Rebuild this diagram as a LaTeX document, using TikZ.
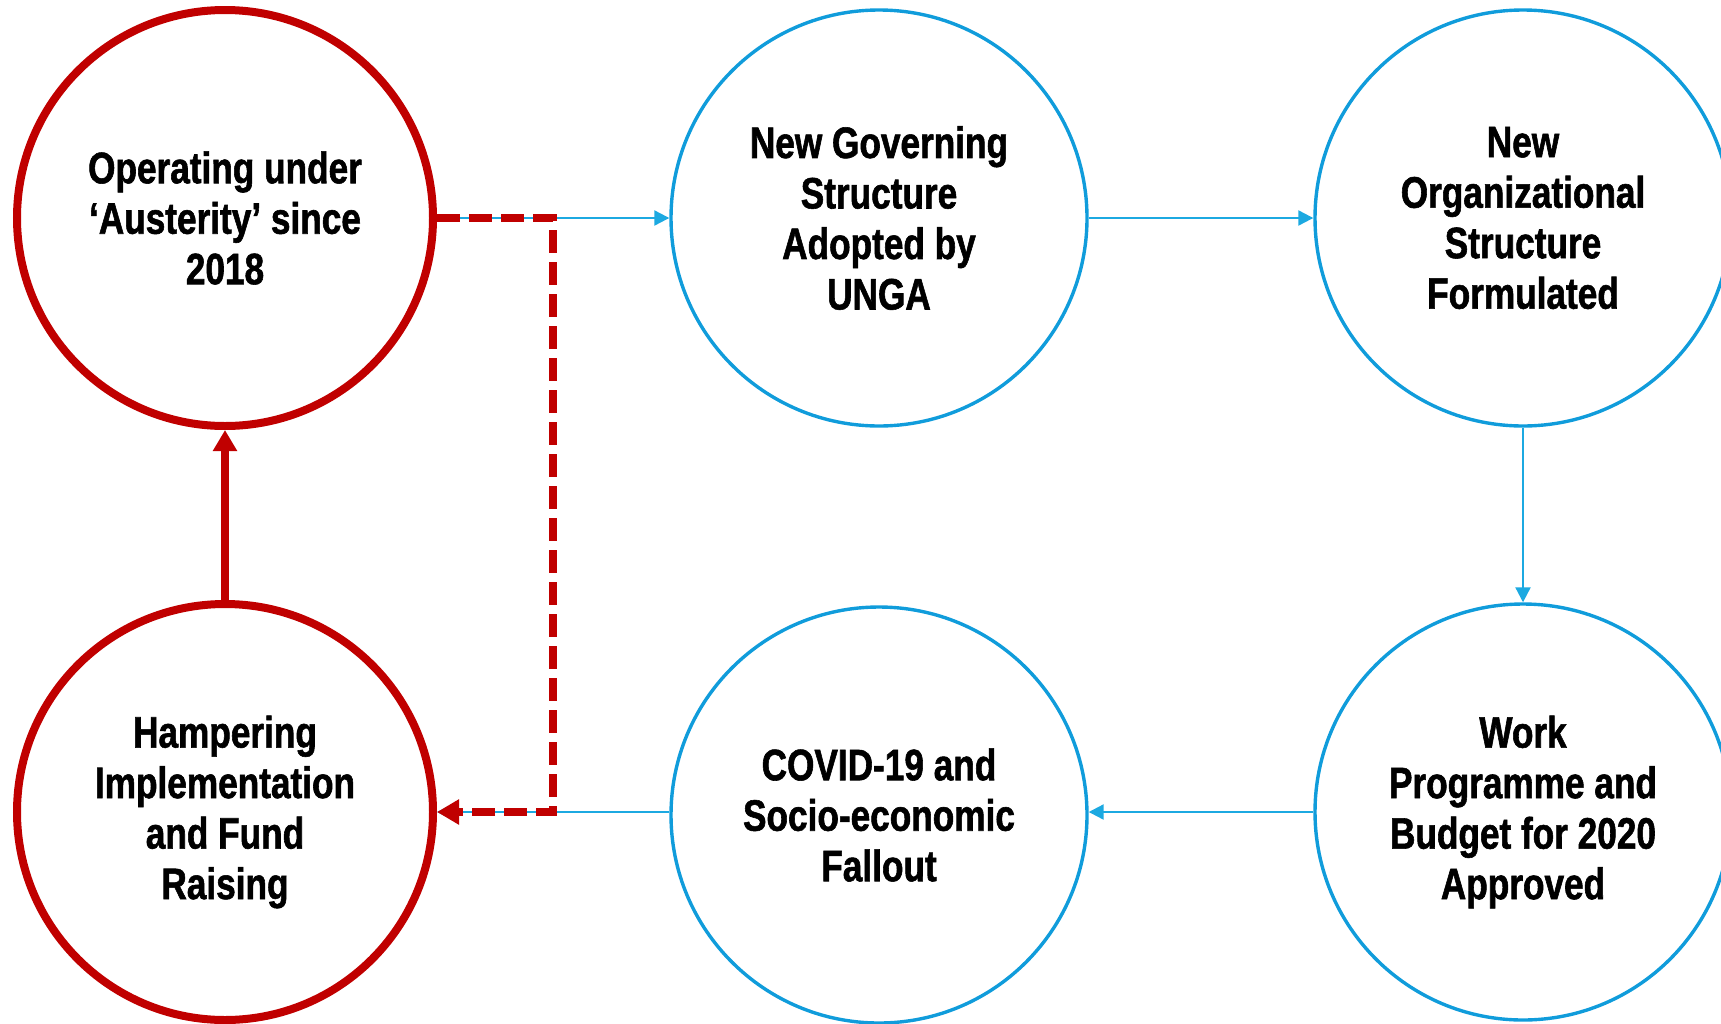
\documentclass[tikz,border=0pt]{standalone}
\usepackage{fontspec}
\setmainfont{Liberation Sans}[FakeStretch=0.8, BoldFeatures={FakeBold=1.3}]
\usetikzlibrary{arrows.meta}
\definecolor{cblue}{HTML}{109CDB}
\definecolor{lblue}{HTML}{1CA9E1}
\definecolor{cred}{HTML}{C00000}
\begin{document}
\begin{tikzpicture}[x=1pt,y=-1pt,
  bub/.style={circle, minimum size=416pt, inner sep=0pt, align=center,
    font=\fontsize{44}{50.5}\selectfont\bfseries},
  bluebub/.style={bub, draw=cblue, line width=3.4pt},
  redbub/.style={bub, draw=cred, line width=8pt},
  bluearr/.style={draw=lblue, line width=2.2pt, -{Triangle[length=15pt,width=15pt]}},
  reddash/.style={draw=cred, line width=8pt, dash pattern=on 23pt off 9pt, -{Triangle[length=22pt,width=24pt]}},
  redarr/.style={draw=cred, line width=7.5pt, -{Triangle[length=21pt,width=23pt]}}]
\useasboundingbox (0,0) rectangle (1721,1023);
\node[redbub] (A) at (225,218) {Operating under\\‘Austerity’ since\\2018};
\node[bluebub] (B) at (879,218) {New Governing\\Structure\\Adopted by\\UNGA};
\node[bluebub] (C) at (1523,218) {New\\Organizational\\Structure\\Formulated};
\node[bluebub] (D) at (1523,812) {Work\\Programme and\\Budget for 2020\\Approved};
\node[bluebub] (E) at (879,815) {COVID-19 and\\Socio-economic\\Fallout};
\node[redbub] (F) at (225,812) {Hampering\\Implementation\\and Fund\\Raising};
\coordinate (k1) at (553,218);
\coordinate (k2) at (553,812);
\draw[bluearr] (A.east) -- (B.west);
\draw[bluearr] (B.east) -- (C.west);
\draw[bluearr] (C.south) -- (D.north);
\draw[bluearr] (D.west) -- (E.east |- D.west);
\draw[bluearr] (E.west |- F.east) -- (F.east);
\draw[reddash] (A.east) -- (k1) -- (k2) -- (F.east);
\draw[redarr] (F.north) -- (A.south);
\end{tikzpicture}
\end{document}
